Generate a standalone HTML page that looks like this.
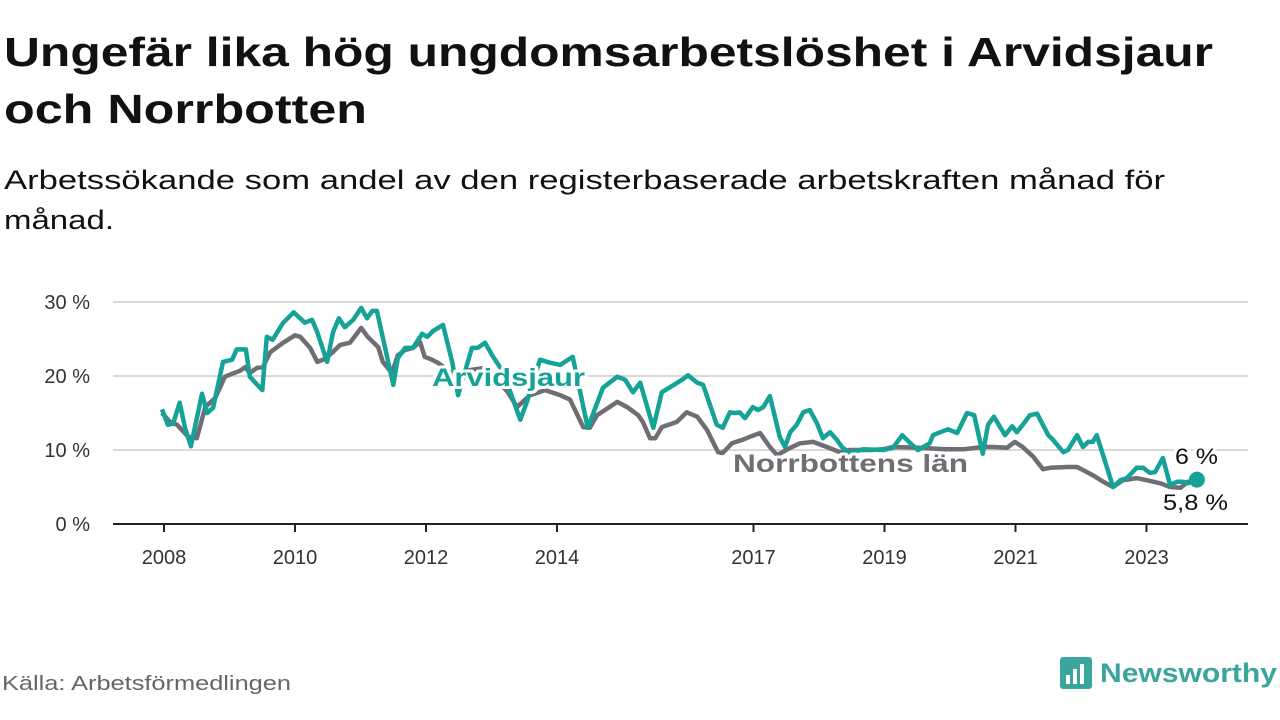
<!DOCTYPE html>
<html><head><meta charset="utf-8"><style>
body{margin:0;background:#fff;width:1280px;height:720px;overflow:hidden}
svg{display:block;font-family:"Liberation Sans",sans-serif}
</style></head><body>
<svg id="chart" width="1280" height="720" viewBox="0 0 1280 720">
<text x="4" y="66" font-size="41" font-weight="bold" fill="#111" textLength="1209" lengthAdjust="spacingAndGlyphs">Ungefär lika hög ungdomsarbetslöshet i Arvidsjaur</text>
<text x="4" y="123" font-size="41" font-weight="bold" fill="#111" textLength="363" lengthAdjust="spacingAndGlyphs">och Norrbotten</text>
<text x="4" y="189" font-size="27" fill="#111" textLength="1161" lengthAdjust="spacingAndGlyphs">Arbetssökande som andel av den registerbaserade arbetskraften månad för</text>
<text x="4" y="229" font-size="27" fill="#111" textLength="110" lengthAdjust="spacingAndGlyphs">månad.</text>
<g id="grid"></g><g id="axes"></g><g id="series"></g><g id="labels"></g>
<text x="2" y="690" font-size="20" fill="#666" textLength="289" lengthAdjust="spacingAndGlyphs">Källa: Arbetsförmedlingen</text>
<g>
<rect x="1060" y="657" width="32" height="32" rx="3" fill="#3aa59c"/>
<rect x="1066" y="675" width="4" height="9" fill="#fff"/><rect x="1073" y="669" width="4" height="15" fill="#fff"/><rect x="1080" y="664" width="4" height="20" fill="#fff"/>
<text x="1100" y="682" font-size="27" font-weight="bold" fill="#3aa59c" textLength="177" lengthAdjust="spacingAndGlyphs">Newsworthy</text>
</g>
</svg>
<script>
const yTicks=[0,10,20,30];
const yearTicks=[2008,2010,2012,2014,2017,2019,2021,2023];
const arvT=[2007.97,2008.06,2008.14,2008.24,2008.32,2008.41,2008.58,2008.66,2008.75,2008.90,2009.04,2009.11,2009.25,2009.31,2009.50,2009.57,2009.66,2009.82,2009.98,2010.15,2010.26,2010.34,2010.49,2010.58,2010.67,2010.76,2010.89,2011.01,2011.10,2011.18,2011.25,2011.50,2011.57,2011.68,2011.80,2011.94,2012.02,2012.11,2012.26,2012.40,2012.49,2012.70,2012.79,2012.90,2013.01,2013.18,2013.44,2013.54,2013.74,2013.89,2014.05,2014.24,2014.47,2014.70,2014.92,2015.04,2015.16,2015.27,2015.47,2015.60,2015.73,2015.91,2016.00,2016.14,2016.23,2016.44,2016.53,2016.64,2016.72,2016.79,2016.87,2016.99,2017.07,2017.15,2017.25,2017.40,2017.48,2017.56,2017.66,2017.76,2017.86,2017.97,2018.06,2018.17,2018.27,2018.35,2018.47,2018.67,2018.98,2019.13,2019.27,2019.42,2019.51,2019.69,2019.74,2019.85,2019.97,2020.11,2020.26,2020.37,2020.50,2020.58,2020.67,2020.84,2020.95,2021.02,2021.11,2021.22,2021.33,2021.50,2021.57,2021.73,2021.80,2021.94,2022.03,2022.11,2022.18,2022.24,2022.37,2022.49,2022.60,2022.70,2022.85,2022.95,2023.05,2023.13,2023.25,2023.36,2023.47,2023.56,2023.63,2023.77];
const arvV=[15.5,13.4,13.6,16.4,13.0,10.5,17.6,15.0,15.7,21.9,22.2,23.6,23.6,19.9,18.1,25.3,24.9,27.2,28.6,27.2,27.6,25.9,21.9,25.9,27.8,26.6,27.6,29.2,27.8,28.8,28.8,18.8,22.4,23.8,23.8,25.7,25.3,26.1,26.9,21.9,17.4,23.8,23.8,24.5,22.8,20.5,14.1,16.5,22.2,21.8,21.5,22.6,13.0,18.4,19.9,19.5,17.8,19.1,13.0,17.8,18.5,19.5,20.1,19.1,18.8,13.4,13.0,15.1,15.0,15.1,14.3,15.8,15.4,15.8,17.3,11.8,10.4,12.4,13.4,15.1,15.4,13.6,11.6,12.4,11.4,10.4,9.6,10.1,10.0,10.3,12.0,10.7,10.0,10.9,12.0,12.4,12.8,12.3,15.0,14.7,9.5,13.4,14.5,12.0,13.2,12.4,13.4,14.7,14.9,12.0,11.4,9.7,10.0,12.0,10.4,11.1,11.1,12.0,8.4,5.0,5.9,6.2,7.6,7.6,6.9,7.0,8.9,5.3,5.7,5.7,5.5,6.0];
const norT=[2007.97,2008.09,2008.20,2008.37,2008.50,2008.63,2008.78,2008.93,2009.04,2009.16,2009.24,2009.31,2009.42,2009.51,2009.62,2009.82,2010.00,2010.08,2010.23,2010.34,2010.43,2010.56,2010.69,2010.84,2010.89,2011.01,2011.11,2011.27,2011.34,2011.48,2011.57,2011.68,2011.80,2011.91,2011.98,2012.09,2012.18,2012.37,2012.52,2012.67,2012.90,2013.08,2013.25,2013.39,2013.59,2013.82,2014.05,2014.20,2014.40,2014.50,2014.61,2014.92,2015.07,2015.24,2015.31,2015.42,2015.50,2015.60,2015.83,2015.98,2016.14,2016.29,2016.46,2016.53,2016.67,2016.84,2016.95,2017.10,2017.25,2017.36,2017.56,2017.71,2017.91,2018.12,2018.32,2018.47,2018.78,2018.98,2019.13,2019.54,2019.92,2020.20,2020.50,2020.66,2020.87,2020.99,2021.11,2021.27,2021.42,2021.53,2021.79,2021.94,2022.03,2022.18,2022.34,2022.49,2022.64,2022.85,2023.01,2023.21,2023.36,2023.52,2023.63,2023.77];
const norV=[15.0,13.8,13.4,11.8,11.6,15.8,17.0,19.9,20.3,20.7,21.2,20.4,21.1,21.2,23.2,24.5,25.5,25.3,23.8,21.9,22.2,23.1,24.2,24.5,25.1,26.5,25.3,23.9,21.9,20.4,22.8,23.5,23.8,24.6,22.6,22.2,21.8,20.5,19.7,20.8,21.1,19.5,17.8,15.8,17.4,18.1,17.4,16.8,13.1,13.0,14.7,16.5,15.8,14.7,13.8,11.6,11.6,13.1,13.8,15.1,14.5,12.7,9.7,9.6,10.9,11.4,11.8,12.3,10.4,9.3,10.3,10.9,11.1,10.4,9.7,10.0,10.0,10.1,10.4,10.3,10.1,10.1,10.4,10.4,10.3,11.1,10.4,9.1,7.4,7.6,7.7,7.7,7.3,6.6,5.7,5.0,5.9,6.2,5.9,5.5,5.0,4.9,5.7,5.8];
const NS='http://www.w3.org/2000/svg';
const X=t=>164+(t-2008)*65.5;
const Y=v=>524-v*7.4;
function mk(tag,attrs,parent,txt){const e=document.createElementNS(NS,tag);for(const k in attrs)e.setAttribute(k,attrs[k]);if(txt!==undefined)e.textContent=txt;document.getElementById(parent).appendChild(e);return e;}
yTicks.forEach(v=>{
  if(v>0){const g=mk('line',{x1:113,x2:1248,y1:Y(v),y2:Y(v),stroke:'#d9d9d9','stroke-width':2},'grid');
  
  }
  const t=mk('text',{x:90,y:Y(v)+7,'font-size':20,fill:'#333','text-anchor':'end'},'axes',v+' %');
  
  
});
const ax=mk('line',{x1:113,x2:1248,y1:524,y2:524,stroke:'#222','stroke-width':2},'axes');


yearTicks.forEach(y=>{
  const tk=mk('line',{x1:X(y),x2:X(y),y1:524,y2:532,stroke:'#222','stroke-width':2},'axes');
  
  
  const t=mk('text',{x:X(y),y:564,'font-size':20,fill:'#333','text-anchor':'middle'},'axes',String(y));
  
  
});
function pts(T,V){return T.map((t,i)=>X(t).toFixed(1)+','+Y(V[i]).toFixed(1)).join(' ');}
const ln=mk('polyline',{points:pts(norT,norV),fill:'none',stroke:'#6f6e74','stroke-width':4.5,'stroke-linejoin':'round'},'series');


const la=mk('polyline',{points:pts(arvT,arvV),fill:'none',stroke:'#14a396','stroke-width':4.5,'stroke-linejoin':'round'},'series');


const dot=mk('circle',{cx:X(arvT[arvT.length-1]),cy:Y(arvV[arvV.length-1]),r:8,fill:'#14a396'},'series');


function lab(x,y,txt,col,len,name,size,bold){
  const h=mk('text',{x:x,y:y,'font-size':size,'font-weight':bold?'bold':'normal',fill:'#fff',stroke:'#fff','stroke-width':6,'stroke-linejoin':'round',textLength:len,lengthAdjust:'spacingAndGlyphs'},'labels',txt);
  
  
  const t=mk('text',{x:x,y:y,'font-size':size,'font-weight':bold?'bold':'normal',fill:col,textLength:len,lengthAdjust:'spacingAndGlyphs'},'labels',txt);
  
  
}
lab(432,386,'Arvidsjaur','#14a396',153,'arvidsjaur-label',25,true);
lab(733,472,'Norrbottens län','#6f6e74',235,'norrbotten-label',25,true);
lab(1175,464,'6 %','#111',43,'arvidsjaur-value-label',22,false);
lab(1163,510,'5,8 %','#111',65,'norrbotten-value-label',22,false);
</script>
</body></html>
